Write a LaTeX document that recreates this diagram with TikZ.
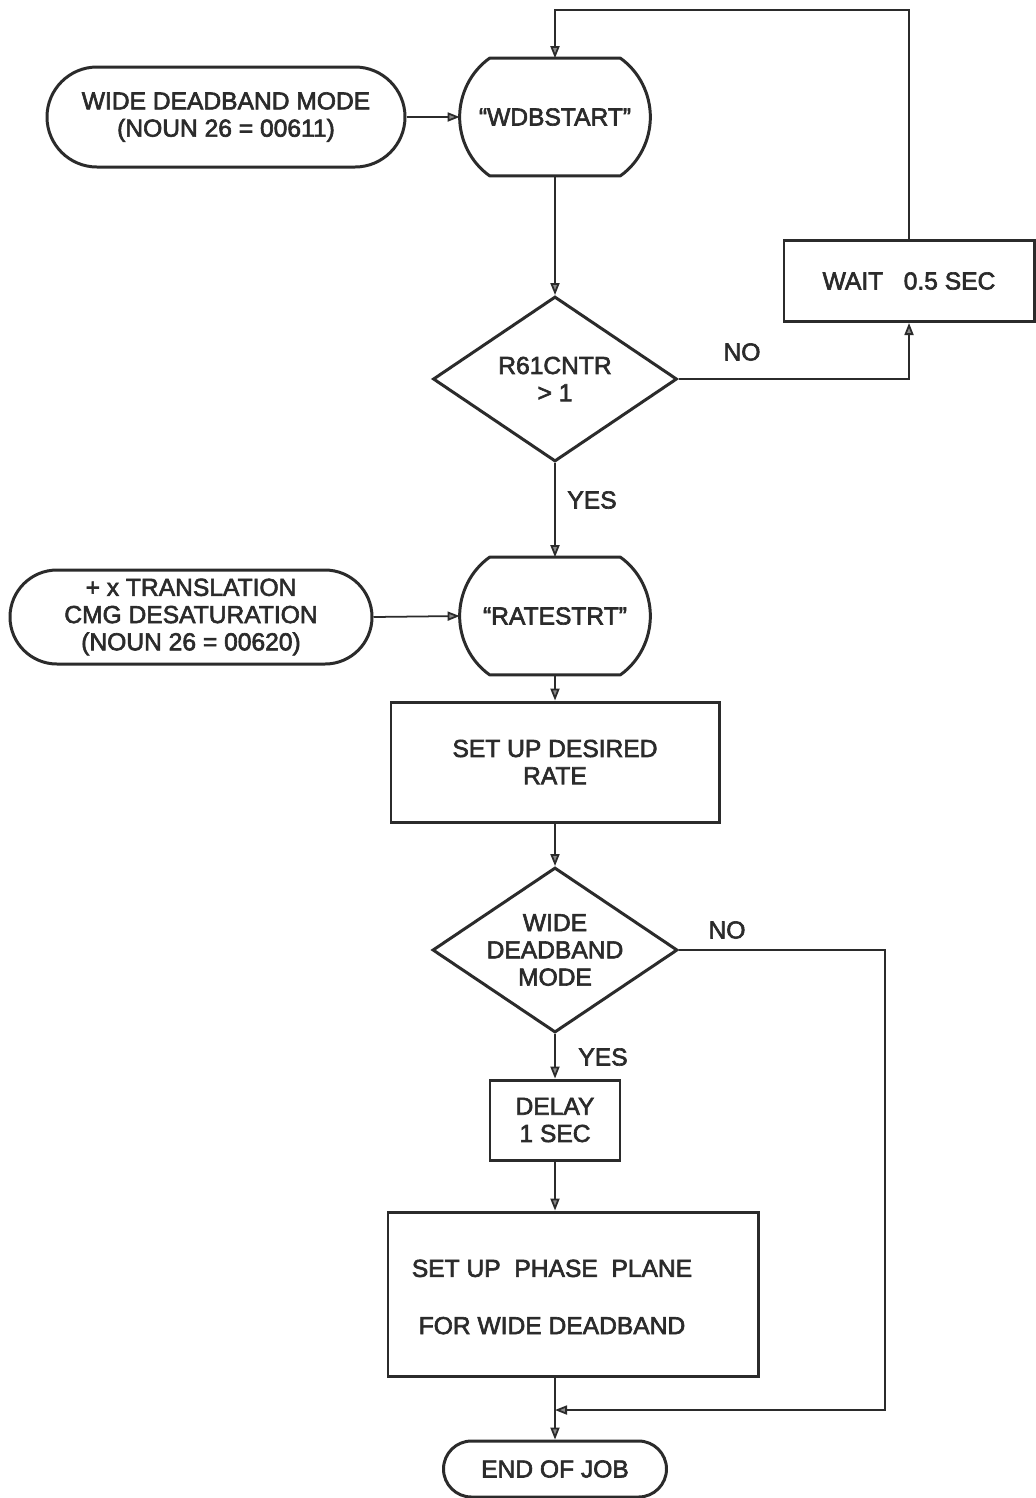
\documentclass[tikz,border=0pt]{standalone}
\usepackage{fontspec}
\setmainfont{Liberation Sans}[FakeBold=2.5]
\usepackage{xcolor}
\usetikzlibrary{positioning,shapes.geometric,arrows.meta}
\definecolor{ink}{HTML}{2B2B2B}
\newcommand{\entryshape}[1]{%
\draw[outline] ([xshift=6mm]#1.north west) -- ([xshift=-6mm]#1.north east)
  .. controls ([xshift=-2.2mm,yshift=-2.7mm]#1.north east) and ([yshift=4.6mm]#1.east) .. (#1.east)
  .. controls ([yshift=-4.6mm]#1.east) and ([xshift=-2.2mm,yshift=2.7mm]#1.south east) .. ([xshift=-6mm]#1.south east)
  -- ([xshift=6mm]#1.south west)
  .. controls ([xshift=2.2mm,yshift=2.7mm]#1.south west) and ([yshift=-4.6mm]#1.west) .. (#1.west)
  .. controls ([yshift=4.6mm]#1.west) and ([xshift=2.2mm,yshift=-2.7mm]#1.north west) .. ([xshift=6mm]#1.north west)
  -- cycle;}
\begin{document}
\begin{tikzpicture}[x=0.2mm,y=-0.2mm,font=\fontsize{14}{15.5}\selectfont,text=ink]
\tikzstyle{every node}+=[align=center,inner sep=0pt]
\tikzstyle{term}=[draw=ink,line width=1.7pt]
\tikzstyle{proc}=[draw=ink,line width=1.7pt,rectangle]
\tikzstyle{decide}=[draw=ink,line width=1.7pt,diamond,aspect=1.48]
\tikzstyle{entry}=[minimum width=38mm,minimum height=23.4mm]
\tikzstyle{outline}=[draw=ink,line width=1.7pt,line join=round]
\tikzstyle{flow}=[draw=ink,line width=1pt,-{Triangle[length=2.4mm,width=1.8mm,fill=ink!55]}]
\useasboundingbox[fill=white] (0,0) rectangle (1036,1498);
\node[term,rounded corners=10mm,minimum width=71.6mm,minimum height=20mm] (wdbentry) at (226,117) {WIDE DEADBAND MODE\\(NOUN 26 = 00611)};
\node[entry] (wdbstart) at (555,117) {“WDBSTART”};
\entryshape{wdbstart}
\node[decide,minimum width=48.8mm,minimum height=33mm] (cntr) at (555,379) {R61CNTR\\> 1};
\node[proc,minimum width=50mm,minimum height=16.2mm] (wait) at (909,281) {WAIT\ \ \ 0.5 SEC};
\node (no1) at (742,352) {NO};
\node (yes1) at (592,500) {YES};
\node[term,rounded corners=9.4mm,minimum width=72.4mm,minimum height=18.8mm] (xtrans) at (191,617) {+ x TRANSLATION\\CMG DESATURATION\\(NOUN 26 = 00620)};
\node[entry] (ratestrt) at (555,616) {“RATESTRT”};
\entryshape{ratestrt}
\node[proc,minimum width=65.6mm,minimum height=24mm] (rate) at (555,762) {SET UP DESIRED\\RATE};
\node[decide,minimum width=49mm,minimum height=33mm] (widemode) at (555,950) {WIDE\\DEADBAND\\MODE};
\node (no2) at (727,930) {NO};
\node (yes2) at (603,1057) {YES};
\node[proc,minimum width=26mm,minimum height=16mm] (delay) at (555,1120) {DELAY\\1 SEC};
\node[proc,minimum width=74mm,minimum height=32.8mm] (phase) at (573,1294) {};
\node (phasetext) at (552,1297) {SET UP\ \ PHASE\ \ PLANE\\[6mm]FOR WIDE DEADBAND};
\node[term,rounded corners=5.6mm,minimum width=44.6mm,minimum height=11.2mm] (endjob) at (555,1469) {END OF JOB};
\coordinate (looptop) at (555,10);
\coordinate (retcorner) at (885,1410);
\coordinate (join) at (555,1410);
\draw[flow] (wait.north) |- (looptop) -- (wdbstart.north);
\draw[flow] (wdbentry.east) -- (wdbstart.west);
\draw[flow] (wdbstart.south) -- (cntr.north);
\draw[flow] (cntr.east) -| (wait.south);
\draw[flow] (cntr.south) -- (ratestrt.north);
\draw[flow] (xtrans.east) -- (ratestrt.west);
\draw[flow] (ratestrt.south) -- (rate.north);
\draw[flow] (rate.south) -- (widemode.north);
\draw[flow] (widemode.south) -- (delay.north);
\draw[flow] (delay.south) -- (delay.south |- phase.north);
\draw[flow] (widemode.east) -| (retcorner) -- (join);
\draw[flow] (phase.south -| endjob.north) -- (endjob.north);
\end{tikzpicture}
\end{document}
